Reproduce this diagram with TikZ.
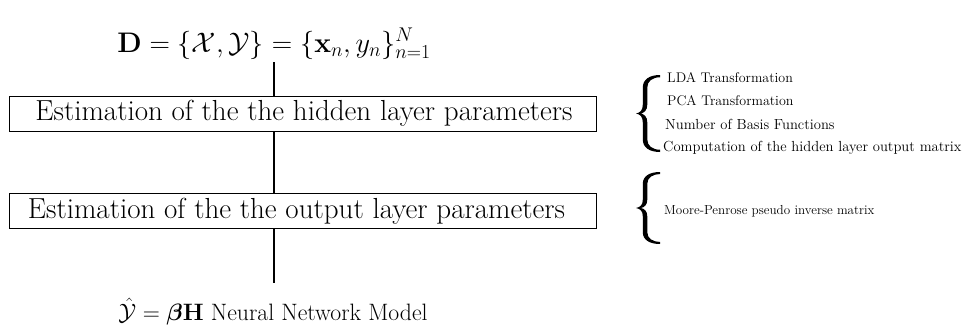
\RequirePackage{fix-cm}
\documentclass[tikz,border=0pt]{standalone}
\usepackage{amsmath,bm}

% font sizes used in the flow chart
\newcommand\titlefont{\fontsize{28.3}{33}\selectfont}
\newcommand\flowfont{\fontsize{29}{34}\selectfont}
\newcommand\modelfont{\fontsize{23.7}{28}\selectfont}
\newcommand\notefont{\fontsize{14}{17}\selectfont}
\newcommand\notefontb{\fontsize{14.6}{17}\selectfont}
\newcommand\notefontc{\fontsize{13.1}{16}\selectfont}

\tikzset{
  stagebox/.style={draw, line width=0.9pt, minimum width=587pt, minimum height=35pt,
                   inner sep=0pt, font=\flowfont},
  conn/.style={line width=1.1pt},
  formula/.style={inner sep=0pt, anchor=base},
  notetext/.style={inner sep=0pt, anchor=base west},
  % a filled curly brace, opening to the right, tip at the origin
  curly/.pic={
    \fill (24,-38.5) .. controls (13.5,-38.5) and (6.8,-34) .. (6.8,-26)
      -- (6.8,-9) .. controls (6.8,-3) and (4,-0.8) .. (0,0)
      .. controls (4,0.8) and (6.8,3) .. (6.8,9)
      -- (6.8,26) .. controls (6.8,34) and (13.5,38.5) .. (24,38.5)
      -- (24,36.2) .. controls (16.5,36.2) and (11.3,32.5) .. (11.3,26)
      -- (11.3,9) .. controls (11.3,3) and (8,0.7) .. (5,0)
      .. controls (8,-0.7) and (11.3,-3) .. (11.3,-9)
      -- (11.3,-26) .. controls (11.3,-32.5) and (16.5,-36.2) .. (24,-36.2)
      -- cycle;
  }
}

\begin{document}
\begin{tikzpicture}[x=1pt, y=-1pt]
  \useasboundingbox (0,0) rectangle (970,332);

  % data set
  \node[formula, font=\titlefont] (t) at (274,52)
    {$\mathbf{D}=\{\mathcal{X},\mathcal{Y}\}=\{\mathbf{x}_n,y_n\}_{n=1}^N$};

  % the two estimation stages
  \node[stagebox] (b1) at (302.5,113.5)
    {\hspace*{3pt}Estimation of the the hidden layer parameters};
  \node[stagebox] (b2) at (302.5,211)
    {Estimation of the the output layer parameters\hspace*{12pt}};

  % resulting model
  \node[formula, font=\modelfont] (m) at (273,320)
    {$\hat{\mathcal{Y}}=\bm{\beta}\mathbf{H}$ Neural Network Model};

  % vertical connectors
  \draw[conn] ([yshift=-3pt]t.south) -- (t.south |- b1.north);
  \draw[conn] (t.south |- b1.south) -- (t.south |- b2.north);
  \draw[conn] (t.south |- b2.south) -- ([yshift=14pt]m.north -| t.south);

  % details of the hidden layer stage
  \pic at (636,113.5) {curly};
  \node[notetext, font=\notefont] (n1) at (667,82) {LDA Transformation};
  \node[notetext, font=\notefont] (n2) at (667,105) {PCA Transformation};
  \node[notetext, font=\notefontb] (n3) at (665,129) {Number of Basis Functions};
  \node[notetext, font=\notefontb] (n4) at (663,151) {Computation of the hidden layer output matrix};

  % details of the output layer stage
  \pic[yscale=0.935] at (636,208) {curly};
  \node[notetext, font=\notefontc] (n5) at (664,214) {Moore-Penrose pseudo inverse matrix};
\end{tikzpicture}
\end{document}
